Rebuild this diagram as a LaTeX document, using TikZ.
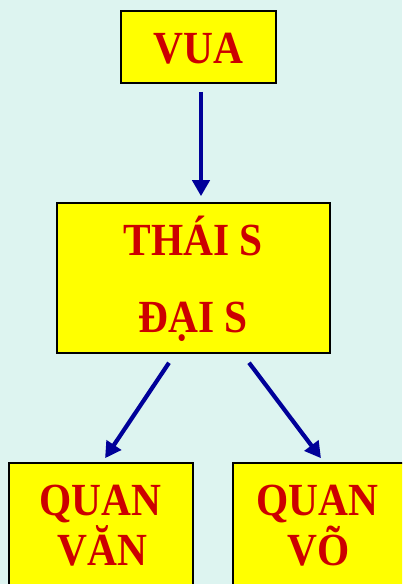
\documentclass[tikz,border=0pt]{standalone}
\usepackage{fontspec}
\setmainfont{Liberation Serif}
\usetikzlibrary{arrows.meta}
\definecolor{bgcol}{RGB}{221,244,240}
\definecolor{boxyellow}{RGB}{255,255,0}
\definecolor{txtred}{RGB}{204,0,0}
\definecolor{arrblue}{RGB}{0,0,153}
\tikzset{
  rankbox/.style={draw=black, line width=1.6pt, fill=boxyellow, inner sep=0pt},
  ranktext/.style={anchor=base, text=txtred, inner sep=0pt, xscale=0.9, font=\fontsize{46}{54}\selectfont\bfseries},
  linkarrow/.style={draw=arrblue, line width=4.2pt, -{Triangle[width=17pt,length=16pt]}}
}
\begin{document}
\begin{tikzpicture}[x=1pt,y=-1pt]
\useasboundingbox (0,0) rectangle (402,584);
\clip (0,0) rectangle (402,584);
\fill[bgcol] (0,0) rectangle (402,584);
% boxes
\node[rankbox, minimum width=155pt, minimum height=72pt] (vua) at (198.5,47) {};
\node[rankbox, minimum width=273pt, minimum height=150pt] (thai) at (193.5,278) {};
\node[rankbox, minimum width=184pt, minimum height=160pt] (van) at (101,543) {};
\node[rankbox, minimum width=177pt, minimum height=160pt] (vo) at (321.5,543) {};
% texts
\node[ranktext] (tvua) at (198.5,63) {VUA};
\node[ranktext] (tthai) at (193,255) {THÁI S};
\node[ranktext] (tdai) at (193,332) {ĐẠI S};
\node[ranktext] (tq1) at (100,515) {QUAN};
\node[ranktext] (tvan) at (102.5,565) {VĂN};
\node[ranktext] (tq2) at (317,515) {QUAN};
\node[ranktext] (tvo) at (319,565) {VÕ};
% arrows
\draw[linkarrow, shorten <=8pt, shorten >=6pt] ([xshift=2.5pt]vua.south) -- ([xshift=7.5pt]thai.north);
\draw[linkarrow, shorten <=10.8pt, shorten >=4.8pt] ([xshift=-18.5pt]thai.south) -- ([xshift=1.4pt]van.north);
\draw[linkarrow, shorten <=11.2pt, shorten >=5pt] ([xshift=48.8pt]thai.south) -- ([xshift=2.5pt]vo.north);
\end{tikzpicture}
\end{document}
